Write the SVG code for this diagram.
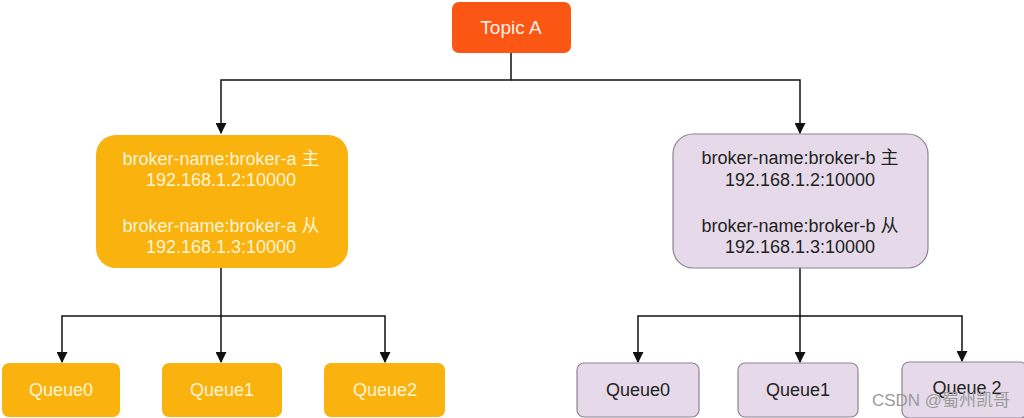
<svg xmlns="http://www.w3.org/2000/svg" width="1024" height="418" viewBox="0 0 1024 418">
<style>
  text { font-family: "Liberation Sans", Arial, "Noto Sans CJK SC", sans-serif; text-anchor: middle; dominant-baseline: central; }
  .orange { fill: #F9B20E; }
  .purple { fill: #E6DAEA; stroke: #8E8492; stroke-width: 1.2; }
  .lt { fill: #FFF4D6; font-size: 18px; }
  .dk { fill: #222222; font-size: 18px; }
  .conn { fill: none; stroke: #111111; stroke-width: 1.5; }
</style>
<defs>
  <marker id="arr" viewBox="0 0 10 10" refX="9" refY="5" markerWidth="11" markerHeight="11" markerUnits="userSpaceOnUse" orient="auto">
    <path d="M0,0 L10,5 L0,10 Z" fill="#111111"/>
  </marker>
</defs>
<rect width="1024" height="418" fill="#FFFFFF"/>

<g id="connectors">
  <path class="conn" d="M511,53 V80 H221 V133" marker-end="url(#arr)"/>
  <path class="conn" d="M511,80 H800 V133" marker-end="url(#arr)"/>
  <path class="conn" d="M221,268 V316 H62 V362" marker-end="url(#arr)"/>
  <path class="conn" d="M221,316 V362" marker-end="url(#arr)"/>
  <path class="conn" d="M221,316 H385 V362" marker-end="url(#arr)"/>
  <path class="conn" d="M800,268 V316 H638 V362" marker-end="url(#arr)"/>
  <path class="conn" d="M800,316 V362" marker-end="url(#arr)"/>
  <path class="conn" d="M800,316 H962 V361" marker-end="url(#arr)"/>
</g>

<g id="topicA">
  <rect x="452" y="2" width="119" height="51" rx="7" fill="#FB5614"/>
  <text x="511" y="27" fill="#FFF1E6" font-size="19">Topic A</text>
</g>

<g id="brokerA">
  <rect class="orange" x="96" y="135" width="252" height="133" rx="20"/>
  <text class="lt" x="221" y="159">broker-name:broker-a 主</text>
  <text class="lt" x="221" y="180">192.168.1.2:10000</text>
  <text class="lt" x="221" y="226">broker-name:broker-a 从</text>
  <text class="lt" x="221" y="247">192.168.1.3:10000</text>
</g>

<g id="brokerB">
  <rect class="purple" x="673" y="134" width="255" height="134" rx="20"/>
  <text class="dk" x="800" y="158">broker-name:broker-b 主</text>
  <text class="dk" x="800" y="180">192.168.1.2:10000</text>
  <text class="dk" x="800" y="226">broker-name:broker-b 从</text>
  <text class="dk" x="800" y="247">192.168.1.3:10000</text>
</g>

<g id="queueA0">
  <rect class="orange" x="2" y="363" width="118" height="54" rx="7"/>
  <text class="lt" x="61" y="390">Queue0</text>
</g>
<g id="queueA1">
  <rect class="orange" x="162" y="363" width="120" height="54" rx="7"/>
  <text class="lt" x="222" y="390">Queue1</text>
</g>
<g id="queueA2">
  <rect class="orange" x="324" y="363" width="121" height="54" rx="7"/>
  <text class="lt" x="385" y="390">Queue2</text>
</g>

<g id="queueB0">
  <rect class="purple" x="577" y="363" width="122" height="54" rx="7"/>
  <text class="dk" x="638" y="390">Queue0</text>
</g>
<g id="queueB1">
  <rect class="purple" x="738" y="363" width="120" height="54" rx="7"/>
  <text class="dk" x="798" y="390">Queue1</text>
</g>
<g id="queueB2">
  <rect class="purple" x="902" y="362" width="125" height="56" rx="7"/>
  <text class="dk" x="967" y="388" fill="#000000">Queue 2</text>
</g>

<text x="941" y="400" fill="#9A9A9A" font-size="17" style="font-family:'Liberation Sans','Noto Sans CJK SC',sans-serif">CSDN @蜀州凯哥</text>
</svg>
